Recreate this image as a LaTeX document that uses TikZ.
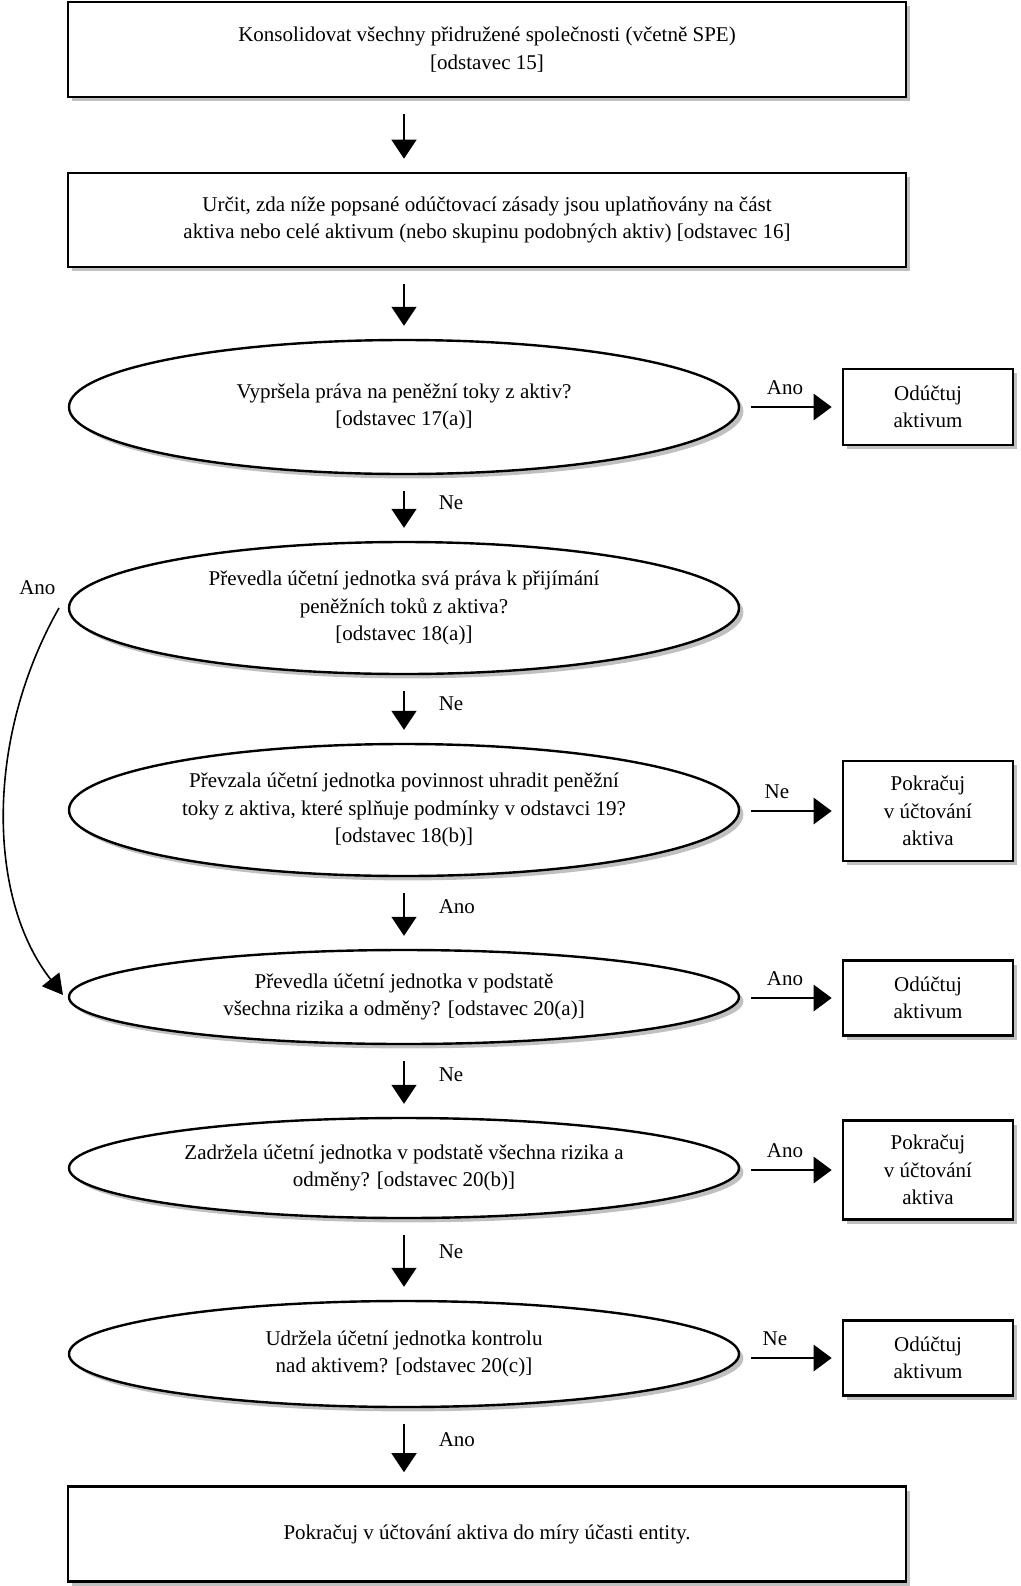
\documentclass[tikz,border=0pt]{standalone}
\usepackage{fontspec}
\setmainfont{Liberation Serif}
\usetikzlibrary{shapes.geometric,shadows,arrows.meta}
\begin{document}
\begin{tikzpicture}[x=1pt,y=-1pt,
  font=\fontsize{10.5}{13.7}\selectfont,
  shad/.style={drop shadow={shadow xshift=2.2pt,shadow yshift=-2.2pt,fill=black!45,opacity=0.55}},
  bigbox/.style={draw,line width=1.3pt,fill=white,shad,minimum width=419pt,align=center,inner sep=0pt},
  sidebox/.style={draw,line width=1.3pt,fill=white,shad,minimum width=85pt,align=center,inner sep=0pt},
  oval/.style={ellipse,draw,line width=1.2pt,fill=white,shad,minimum width=335pt,align=center,inner sep=0pt},
  down/.style={line width=0.8pt,-{Triangle[width=12.5pt,length=9.5pt]},shorten <=8pt,shorten >=6.5pt},
  side/.style={line width=1.4pt,-{Triangle[width=13pt,length=9pt]},shorten <=5.5pt,shorten >=5pt},
  lab/.style={inner sep=0pt},
  vlab/.style={lab,pos=0.3,right=17pt,yshift=-4pt},
  hlab/.style={lab,above=5.5pt}
]
\useasboundingbox (0,0) rectangle (510.5,793);

\node[bigbox,minimum height=47.5pt] (b1) at (243.5,24.75) {Konsolidovat všechny přidružené společnosti (včetně SPE)\\{[odstavec 15]}};
\node[bigbox,minimum height=47pt] (b2) at (243.5,110) {Určit, zda níže popsané odúčtovací zásady jsou uplatňovány na část\\aktiva nebo celé aktivum (nebo skupinu podobných aktiv) [odstavec 16]};

\node[oval,minimum height=67pt] (e1) at (202,203.5) {Vypršela práva na peněžní toky z aktiv?\\{[odstavec 17(a)]}};
\node[oval,minimum height=66pt] (e2) at (202,304) {Převedla účetní jednotka svá práva k přijímání\\peněžních toků z aktiva?\\{[odstavec 18(a)]}};
\node[oval,minimum height=66pt] (e3) at (202,405) {Převzala účetní jednotka povinnost uhradit peněžní\\toky z aktiva, které splňuje podmínky v odstavci 19?\\{[odstavec 18(b)]}};
\node[oval,minimum height=47pt] (e4) at (202,498.5) {Převedla účetní jednotka v podstatě\\všechna rizika a odměny? [odstavec 20(a)]};
\node[oval,minimum height=50pt] (e5) at (202,584) {Zadržela účetní jednotka v podstatě všechna rizika a\\odměny? [odstavec 20(b)]};
\node[oval,minimum height=53pt] (e6) at (202,677) {Udržela účetní jednotka kontrolu\\nad aktivem? [odstavec 20(c)]};

\node[bigbox,minimum height=47.5pt] (b3) at (243.5,767) {Pokračuj v účtování aktiva do míry účasti entity.};

\node[sidebox,minimum height=38pt] (s1) at (464,203.5) {Odúčtuj\\aktivum};
\node[sidebox,minimum height=50pt] (s2) at (464,405.5) {Pokračuj\\v účtování\\aktiva};
\node[sidebox,minimum height=37.5pt] (s3) at (464,499) {Odúčtuj\\aktivum};
\node[sidebox,minimum height=49.5pt] (s4) at (464,585) {Pokračuj\\v účtování\\aktiva};
\node[sidebox,minimum height=37.5pt] (s5) at (464,679) {Odúčtuj\\aktivum};

% vertical arrows
\draw[down] (b1.south -| e1.north) -- (b2.north -| e1.north);
\draw[down] (b2.south -| e1.north) -- (e1.north);
\draw[down] (e1.south) -- node[vlab] {Ne} (e2.north);
\draw[down] (e2.south) -- node[vlab] {Ne} (e3.north);
\draw[down] (e3.south) -- node[vlab] {Ano} (e4.north);
\draw[down] (e4.south) -- node[vlab] {Ne} (e5.north);
\draw[down] (e5.south) -- node[vlab] {Ne} (e6.north);
\draw[down] (e6.south) -- node[vlab] {Ano} (b3.north -| e6.south);

% side arrows
\draw[side] (e1.east) -- node[hlab,xshift=-3pt] {Ano} (s1.west);
\draw[side] (e3.east |- s2.west) -- node[hlab,xshift=-7pt] {Ne} (s2.west);
\draw[side] (e4.east |- s3.west) -- node[hlab,xshift=-3pt] {Ano} (s3.west);
\draw[side] (e5.east |- s4.west) -- node[hlab,xshift=-3pt] {Ano} (s4.west);
\draw[side] (e6.east |- s5.west) -- node[hlab,xshift=-8pt] {Ne} (s5.west);

% curved Ano arrow
\coordinate (cs) at (29.5,304);
\coordinate (ce) at (31.5,497.5);
\node[lab] (ano) at (18.7,294) {Ano};
\draw[line width=0.8pt,-{Triangle[width=11pt,length=10pt]}] (cs) .. controls (-8,370) and (-6,450) .. (ce);
\end{tikzpicture}
\end{document}
